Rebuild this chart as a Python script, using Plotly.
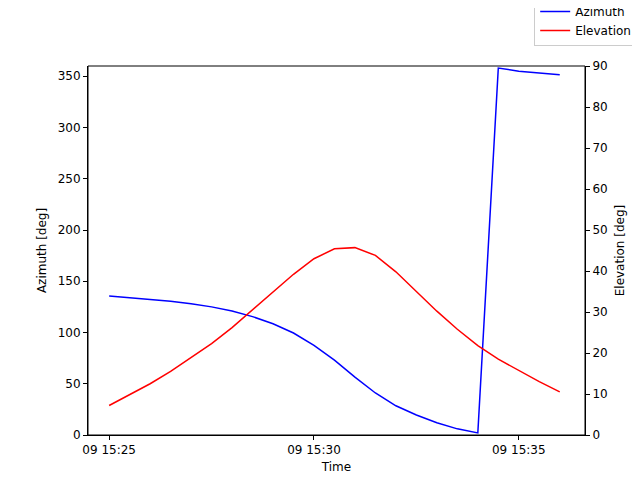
import pandas as pd
import plotly.graph_objects as go

times = pd.date_range("2000-01-09 15:25:00", periods=23, freq="30s")
azimuth = [135.5, 134, 132.5, 130.5, 128, 125, 121, 115.5, 108.5, 99.5, 87.5, 73,
           56.5, 41, 28.5, 19.5, 12, 6, 2, 358, 355, 353, 351.5]
elevation = [7.2, 9.8, 12.5, 15.5, 18.8, 22.3, 26.2, 30.5, 35, 39.2, 43, 45.4,
             45.7, 43.8, 39.8, 35, 30.2, 25.8, 21.8, 18.5, 15.7, 13, 10.5]

fig = go.Figure()
fig.add_trace(go.Scatter(x=times, y=azimuth, mode="lines", name="Azimuth",
                         line=dict(color="blue", width=1.5)))
fig.add_trace(go.Scatter(x=times, y=elevation, mode="lines", name="Elevation",
                         yaxis="y2", line=dict(color="red", width=1.5)))

axis_style = dict(showgrid=False, zeroline=False, showline=True, linecolor="black",
                  mirror=False, ticks="outside", ticklen=4, tickcolor="black",
                  tickfont=dict(size=12, color="black"))
fig.update_layout(
    width=640, height=480,
    margin=dict(l=80, r=63, t=58, b=53, autoexpand=False),
    plot_bgcolor="white", paper_bgcolor="white",
    font=dict(family="DejaVu Sans", size=12, color="black"),
    xaxis=dict(**axis_style, title=dict(text="Time", standoff=6, font=dict(size=12)),
               range=["2000-01-09 15:24:29", "2000-01-09 15:36:37"],
               tickvals=pd.to_datetime(["2000-01-09 15:25", "2000-01-09 15:30", "2000-01-09 15:35"]),
               tickformat="%d %H:%M"),
    yaxis=dict(**axis_style, title=dict(text="Azimuth [deg]", font=dict(size=12), standoff=8),
               range=[0, 360], dtick=50),
    yaxis2=dict(**axis_style, title=dict(text="Elevation [deg]", font=dict(size=12), standoff=8),
                range=[0, 90], dtick=10, overlaying="y", side="right"),
    legend=dict(x=1.105, y=1.19, xanchor="right", yanchor="top",
                bordercolor="#cccccc", borderwidth=1, bgcolor="white",
                font=dict(size=12), tracegroupgap=0),
    showlegend=True,
)
fig.add_shape(type="rect", xref="paper", yref="paper", x0=0, x1=1, y0=0, y1=1,
              line=dict(color="black", width=1))
fig.write_html("out.html")
